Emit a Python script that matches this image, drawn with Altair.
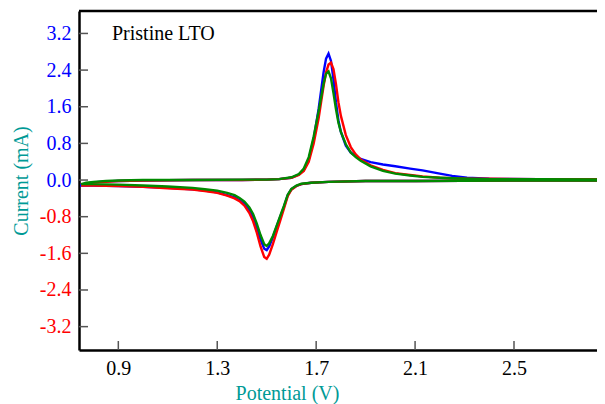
import altair as alt
import pandas as pd

chart_label = "Pristine LTO"
x_title = "Potential (V)"
y_title = "Current (mA)"
x_ticks = [0.9, 1.3, 1.7, 2.1, 2.5]
y_ticks = [-3.2, -2.4, -1.6, -0.8, 0.0, 0.8, 1.6, 2.4, 3.2]

series_names = ["Cycle 1", "Cycle 2", "Cycle 3"]
series_colors = ["#0000ff", "#ff0000", "#008a00"]

# cathodic sweep (high -> low potential)
cath_v = [2.87, 2.5, 2.1, 1.9, 1.75, 1.68, 1.64, 1.62, 1.60, 1.585, 1.57, 1.555, 1.54, 1.525,
          1.51, 1.50, 1.49, 1.475, 1.46, 1.445, 1.43, 1.41, 1.39, 1.37, 1.34, 1.30, 1.25, 1.2,
          1.1, 1.0, 0.9, 0.8, 0.75]
cath_blue = [-0.01, -0.01, -0.02, -0.02, -0.04, -0.06, -0.09, -0.13, -0.2, -0.33, -0.58, -0.8,
             -1.02, -1.25, -1.45, -1.53, -1.5, -1.3, -1.03, -0.82, -0.66, -0.52, -0.44, -0.38,
             -0.33, -0.27, -0.23, -0.2, -0.17, -0.15, -0.13, -0.12, -0.12]
cath_red = [-0.01, -0.01, -0.02, -0.02, -0.04, -0.06, -0.09, -0.13, -0.21, -0.35, -0.62, -0.88,
            -1.14, -1.4, -1.63, -1.72, -1.68, -1.45, -1.15, -0.9, -0.72, -0.56, -0.46, -0.4,
            -0.34, -0.28, -0.24, -0.21, -0.18, -0.15, -0.13, -0.12, -0.12]
cath_green = [-0.01, -0.01, -0.02, -0.02, -0.04, -0.06, -0.08, -0.12, -0.19, -0.32, -0.56, -0.78,
              -1.0, -1.22, -1.38, -1.44, -1.4, -1.2, -0.95, -0.74, -0.6, -0.47, -0.39, -0.33,
              -0.28, -0.23, -0.2, -0.17, -0.14, -0.12, -0.1, -0.09, -0.09]

# anodic sweep (low -> high potential)
anod_v = [0.75, 0.77, 0.80, 0.85, 0.9, 1.0, 1.2, 1.4, 1.5, 1.55, 1.6, 1.63, 1.65, 1.67, 1.69,
          1.71, 1.72, 1.73, 1.74, 1.75, 1.76, 1.77, 1.78, 1.79, 1.80, 1.82, 1.84, 1.86, 1.88,
          1.92, 1.97, 2.02, 2.08, 2.13, 2.2, 2.25, 2.31, 2.4, 2.6, 2.87]
anod_blue = [-0.11, -0.08, -0.05, -0.03, -0.02, -0.01, 0.0, 0.0, 0.01, 0.02, 0.05, 0.12, 0.22,
             0.45, 0.9, 1.55, 1.95, 2.35, 2.65, 2.76, 2.6, 2.2, 1.7, 1.3, 1.05, 0.75, 0.6, 0.52,
             0.46, 0.39, 0.34, 0.30, 0.25, 0.21, 0.14, 0.09, 0.05, 0.03, 0.02, 0.02]
anod_red = [-0.12, -0.09, -0.06, -0.04, -0.02, -0.01, 0.0, 0.0, 0.01, 0.02, 0.05, 0.11, 0.2,
            0.4, 0.8, 1.35, 1.7, 2.05, 2.35, 2.52, 2.56, 2.42, 2.1, 1.7, 1.4, 0.98, 0.72, 0.56,
            0.45, 0.32, 0.22, 0.15, 0.11, 0.08, 0.05, 0.04, 0.03, 0.03, 0.02, 0.02]
anod_green = [-0.09, -0.06, -0.04, -0.02, -0.01, 0.0, 0.0, 0.01, 0.01, 0.02, 0.06, 0.13, 0.25,
              0.5, 0.95, 1.5, 1.8, 2.1, 2.32, 2.37, 2.22, 1.9, 1.55, 1.25, 1.05, 0.78, 0.6, 0.5,
              0.42, 0.3, 0.2, 0.14, 0.1, 0.07, 0.05, 0.04, 0.03, 0.02, 0.02, 0.01]

rows = []
for name, cath, anod in zip(series_names, [cath_blue, cath_red, cath_green],
                            [anod_blue, anod_red, anod_green]):
    k = 0
    for v, i in zip(cath_v, cath):
        rows.append({"series": name, "idx": k, "V": v, "I": i})
        k += 1
    for v, i in zip(anod_v, anod):
        rows.append({"series": name, "idx": k, "V": v, "I": i})
        k += 1
df = pd.DataFrame(rows)

FONT = "Liberation Serif"
TEAL = "#009a96"
W, H = 518, 339

xscale = alt.Scale(domain=[0.741, 0.741 + W / 247.3], nice=False, zero=False)
yscale = alt.Scale(domain=[-3.71, 3.69], nice=False, zero=False)

xaxis = alt.Axis(values=x_ticks, format=".1f", ticks=False, grid=False, labelPadding=8,
                 labelFont=FONT, labelFontSize=20, labelColor="black",
                 domainColor="black", domainWidth=2.5,
                 title=x_title, titleFont=FONT, titleFontSize=20, titleFontWeight="normal",
                 titleColor=TEAL, titleX=208, titlePadding=5)
yaxis = alt.Axis(values=y_ticks, ticks=False, grid=False, labelPadding=8,
                 labelExpr="replace(format(datum.value, '.1f'), '\u2212', '-')",
                 labelColor=alt.expr("datum.value >= 0 ? '#0000ff' : '#ff0000'"),
                 labelFont=FONT, labelFontSize=20,
                 domainColor="black", domainWidth=2.5,
                 title=y_title, titleFont=FONT, titleFontSize=20, titleFontWeight="normal",
                 titleColor=TEAL, titlePadding=8)

layers = []
for name, color in zip(series_names, series_colors):
    layers.append(
        alt.Chart(df).transform_filter(alt.datum.series == name)
        .mark_line(color=color, strokeWidth=2.4, clip=True)
        .encode(x=alt.X("V:Q", scale=xscale, axis=xaxis),
                y=alt.Y("I:Q", scale=yscale, axis=yaxis),
                order="idx:Q")
    )

ytick_df = pd.DataFrame({"t": y_ticks})
xtick_df = pd.DataFrame({"t": x_ticks})
ytick_layer = alt.Chart(ytick_df).mark_rule(color="#555555", strokeWidth=1.5).encode(
    y=alt.Y("t:Q", scale=yscale, axis=yaxis), x=alt.value(0), x2=alt.value(9))
xtick_layer = alt.Chart(xtick_df).mark_rule(color="#555555", strokeWidth=1.5).encode(
    x=alt.X("t:Q", scale=xscale, axis=xaxis), y=alt.value(H), y2=alt.value(H - 9))
top_line = alt.Chart(pd.DataFrame({"t": [0]})).mark_rule(color="black", strokeWidth=2.5).encode(
    y=alt.value(0), x=alt.value(0), x2=alt.value(W))

label_layer = alt.Chart(pd.DataFrame({"label": [chart_label]})).mark_text(
    font=FONT, fontSize=20, color="black", align="left", baseline="alphabetic").encode(
    text="label:N", x=alt.value(33), y=alt.value(29))

chart = alt.layer(*layers, ytick_layer, xtick_layer, top_line, label_layer).properties(
    width=W, height=H,
    autosize=alt.AutoSizeParams(type="none"),
    padding={"left": 71, "top": 3, "right": 0, "bottom": 54},
).configure_view(stroke=None)

chart.save("out.html", embed_options={"renderer": "svg", "actions": False})
